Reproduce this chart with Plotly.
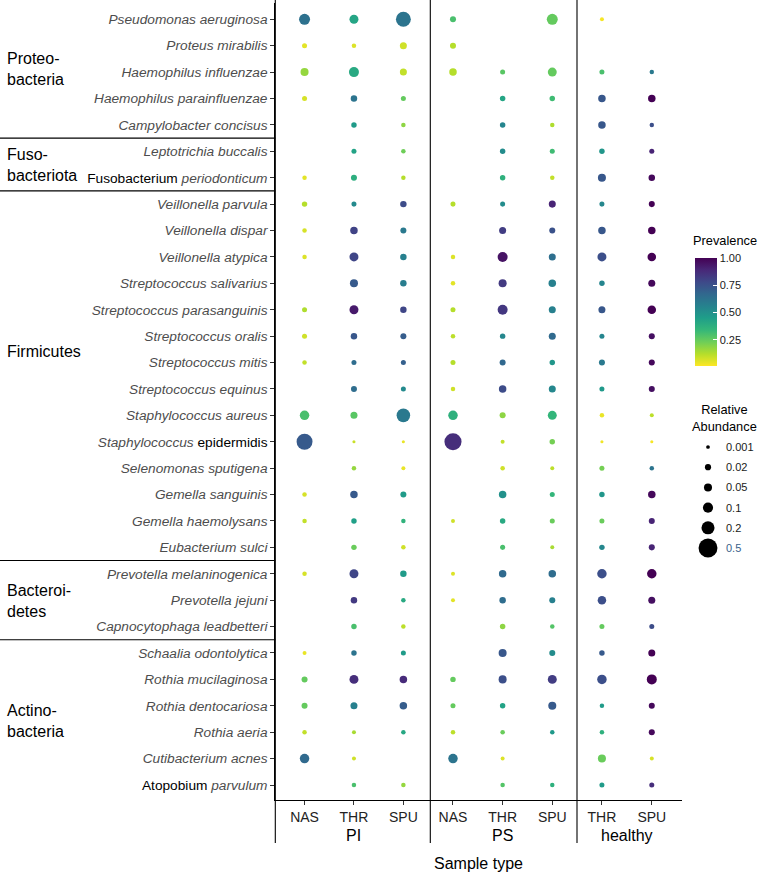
import math
import plotly.graph_objects as go

# ---------------- data ----------------
species = [
    "Pseudomonas aeruginosa", "Proteus mirabilis", "Haemophilus influenzae",
    "Haemophilus parainfluenzae", "Campylobacter concisus", "Leptotrichia buccalis",
    "Fusobacterium periodonticum", "Veillonella parvula", "Veillonella dispar",
    "Veillonella atypica", "Streptococcus salivarius", "Streptococcus parasanguinis",
    "Streptococcus oralis", "Streptococcus mitis", "Streptococcus equinus",
    "Staphylococcus aureus", "Staphylococcus epidermidis", "Selenomonas sputigena",
    "Gemella sanguinis", "Gemella haemolysans", "Eubacterium sulci",
    "Prevotella melaninogenica", "Prevotella jejuni", "Capnocytophaga leadbetteri",
    "Schaalia odontolytica", "Rothia mucilaginosa", "Rothia dentocariosa",
    "Rothia aeria", "Cutibacterium acnes", "Atopobium parvulum",
]

phyla = ["Proteo-<br>bacteria", "Fuso-<br>bacteriota", "Firmicutes",
         "Bacteroi-<br>detes", "Actino-<br>bacteria"]
phylum_first_row = [0, 5, 7, 21, 24]
phylum_label_row = [1.88, 5.5, 12.6, 22.03, 26.57]

groups = ["PI", "PS", "healthy"]
samples_PI = ["NAS", "THR", "SPU"]
samples_PS = ["NAS", "THR", "SPU"]
samples_healthy = ["THR", "SPU"]

# prevalence (fraction of samples) per species, one list per sample column
prev_PI_NAS = [0.63, 0.05, 0.17, 0.07, None, None, 0.05, 0.12, 0.07, 0.06,
               None, 0.13, 0.08, 0.10, None, 0.30, 0.72, None, 0.07, 0.10,
               None, 0.07, None, None, 0.04, 0.25, 0.25, 0.10, 0.66, None]
prev_PI_THR = [0.42, 0.06, 0.40, 0.62, 0.46, 0.43, 0.38, 0.53, 0.80, 0.79,
               0.72, 0.93, 0.73, 0.65, 0.65, 0.27, 0.09, 0.17, 0.72, 0.44,
               0.24, 0.79, 0.83, 0.30, 0.62, 0.87, 0.57, 0.14, 0.08, 0.30]
prev_PI_SPU = [0.62, 0.08, 0.10, 0.25, 0.18, 0.23, 0.12, 0.77, 0.60, 0.57,
               0.58, 0.79, 0.71, 0.70, 0.53, 0.60, 0.04, 0.04, 0.46, 0.36,
               0.08, 0.46, 0.40, 0.11, 0.46, 0.88, 0.71, 0.41, None, 0.17]
prev_PS_NAS = [0.30, 0.12, 0.12, None, None, None, None, 0.12, None, 0.06,
               0.05, 0.12, 0.11, 0.12, 0.08, 0.37, 0.87, None, None, 0.08,
               None, 0.06, 0.05, None, None, 0.25, 0.25, 0.11, 0.62, None]
prev_PS_THR = [None, None, 0.27, 0.42, 0.55, 0.52, 0.37, 0.52, 0.82, 0.95,
               0.83, 0.84, 0.54, 0.67, 0.77, 0.18, 0.10, 0.08, 0.50, 0.40,
               0.30, 0.66, 0.65, 0.18, 0.73, 0.76, 0.43, 0.24, 0.06, 0.28]
prev_PS_SPU = [0.25, None, 0.25, 0.32, 0.13, 0.32, 0.10, 0.90, 0.75, 0.64,
               0.57, 0.57, 0.66, 0.48, 0.54, 0.35, 0.22, 0.11, 0.35, 0.24,
               0.14, 0.65, 0.57, 0.28, 0.52, 0.82, 0.72, 0.47, None, 0.37]
prev_healthy_THR = [0.02, None, 0.30, 0.73, 0.73, 0.48, 0.73, 0.54, 0.73, 0.76,
                    0.55, 0.73, 0.55, 0.60, 0.47, 0.04, 0.03, 0.22, 0.48, 0.24,
                    0.54, 0.76, 0.76, 0.25, 0.72, 0.76, 0.46, 0.37, 0.24, 0.46]
prev_healthy_SPU = [None, None, 0.60, 1.00, 0.76, 0.90, 0.98, 1.00, 1.00, 1.00,
                    0.98, 1.00, 0.96, 0.98, 0.96, 0.11, 0.02, 0.62, 0.98, 0.90,
                    0.90, 1.00, 0.96, 0.77, 1.00, 1.00, 0.98, 0.98, 0.07, 0.87]

# mean relative abundance per species, one list per sample column
abund_PI_NAS = [0.126, 0.008, 0.050, 0.008, None, None, 0.0045, 0.012, 0.0045, 0.0045,
                None, 0.008, 0.008, 0.0045, None, 0.083, 0.33, None, 0.0045, 0.0045,
                None, 0.0045, None, None, 0.002, 0.018, 0.018, 0.0045, 0.083, None]
abund_PI_THR = [0.070, 0.0045, 0.097, 0.024, 0.012, 0.008, 0.018, 0.008, 0.040, 0.070,
                0.050, 0.070, 0.024, 0.008, 0.018, 0.032, 0.00001, 0.0045, 0.040, 0.012,
                0.012, 0.070, 0.024, 0.012, 0.012, 0.070, 0.032, 0.002, 0.002, 0.0045]
abund_PI_SPU = [0.28, 0.032, 0.032, 0.008, 0.0045, 0.0045, 0.0045, 0.024, 0.018, 0.024,
                0.024, 0.024, 0.018, 0.008, 0.008, 0.22, 0.00002, 0.002, 0.018, 0.0045,
                0.0045, 0.024, 0.0045, 0.0045, 0.008, 0.040, 0.040, 0.0045, None, 0.0045]
abund_PS_NAS = [0.018, 0.018, 0.040, None, None, None, None, 0.008, None, 0.0045,
                0.0045, 0.008, 0.0045, 0.008, 0.0045, 0.083, 0.39, None, None, 0.002,
                None, 0.002, 0.002, None, None, 0.012, 0.008, 0.0045, 0.083, None]
abund_PS_THR = [None, None, 0.008, 0.012, 0.012, 0.012, 0.012, 0.008, 0.032, 0.097,
                0.050, 0.097, 0.012, 0.018, 0.040, 0.018, 0.002, 0.0045, 0.040, 0.012,
                0.008, 0.040, 0.024, 0.012, 0.050, 0.050, 0.012, 0.0045, 0.002, 0.0045]
abund_PS_SPU = [0.126, None, 0.070, 0.012, 0.0045, 0.008, 0.0045, 0.032, 0.018, 0.032,
                0.040, 0.032, 0.032, 0.012, 0.032, 0.070, 0.012, 0.002, 0.008, 0.008,
                0.002, 0.040, 0.018, 0.0045, 0.018, 0.070, 0.050, 0.0045, None, 0.0045]
abund_healthy_THR = [0.002, None, 0.008, 0.040, 0.040, 0.012, 0.050, 0.008, 0.040, 0.070,
                     0.012, 0.032, 0.008, 0.018, 0.008, 0.0045, 0.00002, 0.008, 0.012, 0.008,
                     0.012, 0.083, 0.060, 0.008, 0.012, 0.083, 0.0045, 0.0045, 0.050, 0.008]
abund_healthy_SPU = [None, None, 0.0045, 0.040, 0.0045, 0.008, 0.024, 0.018, 0.040, 0.060,
                     0.032, 0.060, 0.018, 0.018, 0.018, 0.002, 0.00001, 0.0045, 0.040, 0.018,
                     0.018, 0.083, 0.032, 0.008, 0.032, 0.097, 0.018, 0.018, 0.002, 0.008]

size_legend_values = [0.001, 0.02, 0.05, 0.1, 0.2, 0.5]
size_legend_labels = ["0.001", "0.02", "0.05", "0.1", "0.2", "0.5"]
prev_ticks = [0.25, 0.50, 0.75, 1.00]
prev_range = [0.01, 1.00]

# ---------------- helpers ----------------
W, H = 760, 873
FONT = "Liberation Sans, Arial, Helvetica, sans-serif"


def px(x):
    return x / W


def py(y):
    return 1 - y / H


def diam(a):
    return 3.0 + 22.5 * math.sqrt(a)


def label(s):
    genus, sp = s.split(" ", 1)
    if s == "Staphylococcus epidermidis":
        return f"<i>{genus}</i> <span style='color:#000'>{sp}</span>"
    if s in ("Fusobacterium periodonticum", "Atopobium parvulum"):
        return f"<span style='color:#000'>{genus}</span> <i>{sp}</i>"
    return f"<i>{s}</i>"


columns = [
    ("PI", "NAS", prev_PI_NAS, abund_PI_NAS, "x"),
    ("PI", "THR", prev_PI_THR, abund_PI_THR, "x"),
    ("PI", "SPU", prev_PI_SPU, abund_PI_SPU, "x"),
    ("PS", "NAS", prev_PS_NAS, abund_PS_NAS, "x2"),
    ("PS", "THR", prev_PS_THR, abund_PS_THR, "x2"),
    ("PS", "SPU", prev_PS_SPU, abund_PS_SPU, "x2"),
    ("healthy", "THR", prev_healthy_THR, abund_healthy_THR, "x3"),
    ("healthy", "SPU", prev_healthy_SPU, abund_healthy_SPU, "x3"),
]

fig = go.Figure()
for grp, samp, prev, ab, xa in columns:
    xs, ys, cs, ss = [], [], [], []
    for sp, p, a in zip(species, prev, ab):
        if p is None or a is None:
            continue
        xs.append(samp)
        ys.append(sp)
        cs.append(p)
        ss.append(diam(a))
    fig.add_trace(go.Scatter(
        x=xs, y=ys, xaxis=xa, yaxis="y", mode="markers",
        marker=dict(size=ss, color=cs, coloraxis="coloraxis", line=dict(width=0), opacity=1),
        showlegend=False, name=f"{grp} {samp}",
    ))

# size legend drawn on an overlay pixel axis
leg_x, leg_y0, leg_dy = 708, 447, 20.2
fig.add_trace(go.Scatter(
    x=[leg_x] * len(size_legend_values),
    y=[leg_y0 + i * leg_dy for i in range(len(size_legend_values))],
    xaxis="x4", yaxis="y2", mode="markers",
    marker=dict(size=[diam(v) for v in size_legend_values], color="#000000",
                opacity=1, line=dict(width=0)),
    showlegend=False, hoverinfo="skip",
))

axis_common = dict(type="category", showline=True, linecolor="black", linewidth=1.1,
                   ticks="outside", ticklen=4, tickwidth=1, tickcolor="#333",
                   showgrid=False, zeroline=False, fixedrange=True,
                   tickfont=dict(size=14, color="#222", family=FONT))

layout = dict(
    width=W, height=H, autosize=False,
    margin=dict(l=0, r=0, t=0, b=0, pad=0),
    template="none",
    paper_bgcolor="white", plot_bgcolor="rgba(0,0,0,0)",
    font=dict(family=FONT, color="black"),
    xaxis=dict(domain=[px(275.3), px(430.3)], range=[-0.592, 2.545],
               categoryorder="array", categoryarray=samples_PI, anchor="y", **axis_common),
    xaxis2=dict(domain=[px(430.3), px(577)], range=[-0.457, 2.498],
                categoryorder="array", categoryarray=samples_PS, anchor="y", **axis_common),
    xaxis3=dict(domain=[px(577), px(681.7)], range=[-0.5, 1.6],
                categoryorder="array", categoryarray=samples_healthy, anchor="y", **axis_common),
    yaxis=dict(domain=[py(800), py(3)], range=[29.568, -0.617], type="category",
               categoryorder="array", categoryarray=species,
               tickmode="array", tickvals=species, ticktext=[label(s) for s in species],
               anchor="x", showline=True, linecolor="black", linewidth=1.1,
               ticks="outside", ticklen=4, tickwidth=1, tickcolor="#333",
               showgrid=False, zeroline=False, fixedrange=True,
               tickfont=dict(size=13.7, color="#4D4D4D", family=FONT)),
    xaxis4=dict(domain=[0, 1], range=[0, W], visible=False, fixedrange=True, anchor="y2"),
    yaxis2=dict(domain=[0, 1], range=[H, 0], visible=False, fixedrange=True, anchor="x4"),
    coloraxis=dict(
        colorscale="Viridis", reversescale=True, cmin=prev_range[0], cmax=prev_range[1],
        colorbar=dict(
            x=px(695), xanchor="left", xpad=0, y=py(312), yanchor="middle", ypad=0,
            len=108, lenmode="pixels", thickness=22, thicknessmode="pixels",
            outlinewidth=0, ticks="inside", tickcolor="white", ticklen=4, tickwidth=1,
            tickvals=prev_ticks, ticktext=[f"{v:.2f}" for v in prev_ticks],
            tickfont=dict(size=11, color="#1a1a1a", family=FONT),
        ),
    ),
)
fig.update_layout(**layout)

shapes = []
line_style = dict(color="black", width=1.1)
for xv in (275.3, 430.3, 577):
    shapes.append(dict(type="line", xref="paper", yref="paper",
                       x0=px(xv), x1=px(xv), y0=py(843), y1=py(0), line=line_style))
for r in phylum_first_row[1:]:
    shapes.append(dict(type="line", xref="paper", yref="y",
                       x0=0, x1=px(275.3), y0=r - 0.5, y1=r - 0.5, line=line_style))
fig.update_layout(shapes=shapes)

ann = []
for name, row in zip(phyla, phylum_label_row):
    ann.append(dict(text=name, xref="paper", yref="y", x=px(5), y=row,
                    xanchor="left", yanchor="middle", align="left", showarrow=False,
                    font=dict(size=16, color="black", family=FONT)))
ann.append(dict(text=groups[0], xref="x", yref="paper", x=1, y=py(835), showarrow=False,
                xanchor="center", yanchor="middle", font=dict(size=16, color="black")))
ann.append(dict(text=groups[1], xref="x2", yref="paper", x=1, y=py(835), showarrow=False,
                xanchor="center", yanchor="middle", font=dict(size=16, color="black")))
ann.append(dict(text=groups[2], xref="x3", yref="paper", x=0.5, y=py(835), showarrow=False,
                xanchor="center", yanchor="middle", font=dict(size=16, color="black")))
ann.append(dict(text="Sample type", xref="paper", yref="paper", x=px(478.5), y=py(863),
                showarrow=False, xanchor="center", yanchor="middle",
                font=dict(size=16, color="black")))
ann.append(dict(text="Prevalence", xref="x4", yref="y2", x=691, y=240,
                showarrow=False, xanchor="left", yanchor="middle",
                font=dict(size=12.8, color="black")))
ann.append(dict(text="Relative<br>Abundance", xref="x4", yref="y2", x=724, y=417.5,
                showarrow=False, xanchor="center", yanchor="middle", align="center",
                font=dict(size=12.8, color="black")))
for i, lab in enumerate(size_legend_labels):
    ann.append(dict(text=lab, xref="x4", yref="y2", x=724, y=leg_y0 + i * leg_dy,
                    showarrow=False, xanchor="left", yanchor="middle",
                    font=dict(size=11, color="#3A5F8A" if lab == "0.5" else "#1a1a1a")))
fig.update_layout(annotations=ann)

fig.write_html("out.html", config={"displayModeBar": False},
               post_script="document.body.style.margin='0px';document.body.style.overflow='hidden';")
